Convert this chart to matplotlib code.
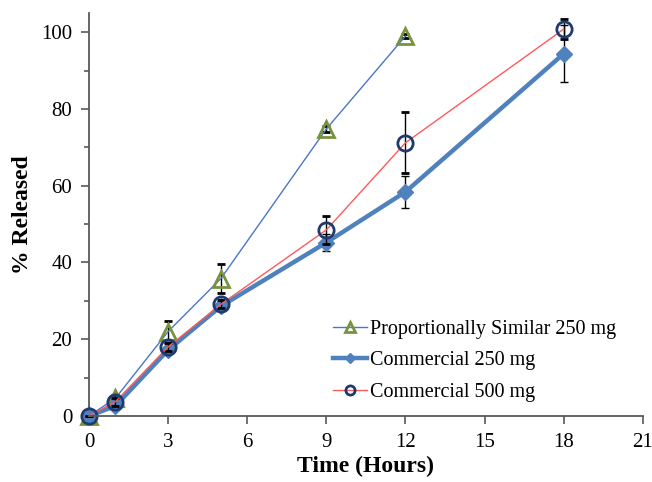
import numpy as np
import matplotlib.pyplot as plt

plt.rcParams['font.family'] = ['Liberation Serif', 'DejaVu Serif']

# Data
t_prop = [0, 1, 3, 5, 9, 12]
y_prop = [0, 4.6, 22, 35.8, 74.8, 99]
e_prop = [0, 0.8, 2.8, 3.7, 0.8, 0.6]

t_c250 = [0, 1, 3, 5, 9, 12, 18]
y_c250 = [0, 2.6, 17.2, 28.6, 45.2, 58.4, 94.4]
e_c250 = [0, 0.6, 0.8, 0.8, 2.2, 4.1, 7.4]

t_c500 = [0, 1, 3, 5, 9, 12, 18]
y_c500 = [0, 3.7, 18, 29.1, 48.5, 71.2, 100.8]
e_c500 = [0, 1.0, 1.0, 1.0, 3.7, 7.9, 2.7]

labels = ['Proportionally Similar 250 mg', 'Commercial 250 mg', 'Commercial 500 mg']
x_ticks = [0, 3, 6, 9, 12, 15, 18, 21]
y_ticks = [0, 20, 40, 60, 80, 100]

fig = plt.figure(figsize=(6.52, 4.82), dpi=100)
ax = fig.add_axes([0.1365, 0.137, 0.8495, 0.836])

ebkw = dict(ecolor='black', elinewidth=1.0, capsize=3, capthick=1.0)

ax.errorbar(t_prop, y_prop, yerr=e_prop, color='#4a76c8', lw=1.0,
            marker='^', ms=11, mfc='none', mec='#77933c', mew=2,
            label=labels[0], zorder=2, **ebkw)
ax.errorbar(t_c250, y_c250, yerr=e_c250, color='#4f81bd', lw=3.2,
            marker='D', ms=8, mfc='#4f81bd', mec='#4f81bd',
            label=labels[1], zorder=3, **ebkw)
ax.errorbar(t_c500, y_c500, yerr=e_c500, color='#ff5a5a', lw=1.0,
            marker='o', ms=11, mfc='none', mec='#1f3a6e', mew=2,
            label=labels[2], zorder=4, **ebkw)

ax.set_xlim(0, 21)
ax.set_ylim(0, 105)
ax.set_xticks(x_ticks)
ax.set_yticks(y_ticks)
ax.set_yticks(np.arange(10, 100, 20), minor=True)

for s in ['top', 'right']:
    ax.spines[s].set_visible(False)
for s in ['left', 'bottom']:
    ax.spines[s].set_color('#595959')
    ax.spines[s].set_linewidth(1.3)
ax.spines['bottom'].set_zorder(5)

ax.tick_params(axis='both', which='major', direction='out', length=6,
               width=1.2, color='#595959', labelsize=15, pad=6)
ax.tick_params(axis='y', which='minor', direction='out', length=3.5,
               width=1.2, color='#595959')
for art in ax.get_children():
    try:
        art.set_clip_on(False)
    except Exception:
        pass

ax.set_xlabel('Time (Hours)', fontsize=17, fontweight='bold', labelpad=3)
ax.set_ylabel('% Released', fontsize=17, fontweight='bold', labelpad=6)

h, l = ax.get_legend_handles_labels()
h = [hh[0] for hh in h]
leg = ax.legend(h, l, loc='lower right', bbox_to_anchor=(0.985, -0.01),
                frameon=False, fontsize=14.5, handlelength=1.7,
                handletextpad=0.15, labelspacing=0.62, markerscale=0.6)

fig.savefig('out.png', dpi=100)
